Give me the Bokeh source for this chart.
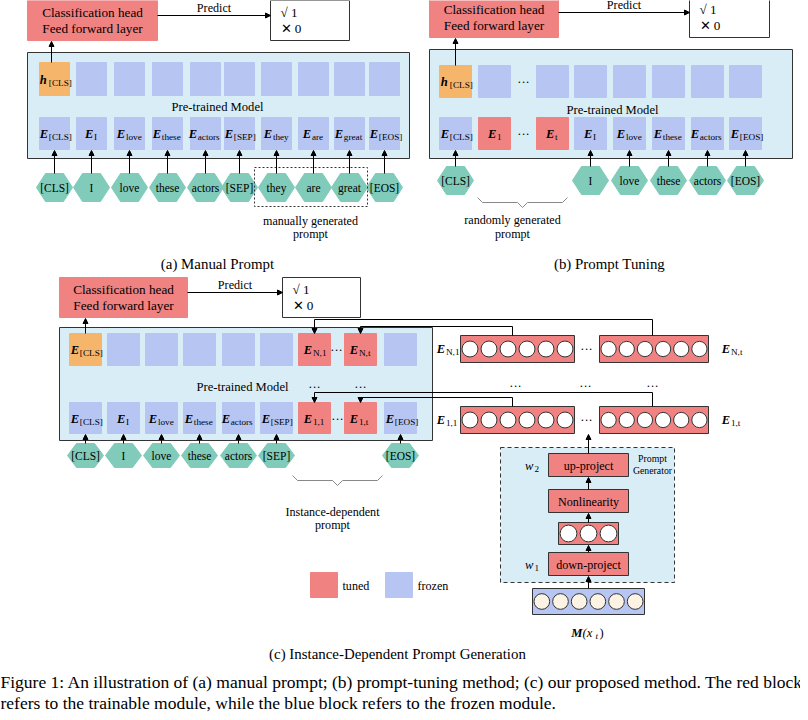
from bokeh.plotting import figure
from bokeh.models import Range1d, Arrow, NormalHead
from bokeh.core.properties import value
from bokeh.embed import file_html
from bokeh.resources import INLINE

SERIF = "Liberation Serif"
FROZEN = "#b6c5f2"; TUNED = "#f08282"; ORANGE = "#f5b66c"; PANEL = "#d8edf6"; HEX = "#80cbb9"
FS = 1.15

# ---- data ----
tokens_a = ["[CLS]", "I", "love", "these", "actors", "[SEP]", "they", "are", "great", "[EOS]"]
x_a = [62, 99, 137, 175, 213, 247, 284, 321, 357, 392]
tokens_b = ["[CLS]", "I", "love", "these", "actors", "[EOS]"]
x_b_tok = [463, 598, 637, 676, 715, 753]
emb_b = [("[CLS]", FROZEN, 463), ("1", TUNED, 502), ("t", TUNED, 560), ("I", FROZEN, 598),
         ("love", FROZEN, 637), ("these", FROZEN, 676), ("actors", FROZEN, 715), ("[EOS]", FROZEN, 753)]
tokens_c = ["[CLS]", "I", "love", "these", "actors", "[SEP]", "[EOS]"]
x_c_tok = [93, 131, 169, 207, 246, 284, 408]
emb_c_bot = [("[CLS]", FROZEN, 93), ("I", FROZEN, 131), ("love", FROZEN, 169), ("these", FROZEN, 207),
             ("actors", FROZEN, 246), ("[SEP]", FROZEN, 284), ("1,1", TUNED, 322), ("1,t", TUNED, 368), ("[EOS]", FROZEN, 408)]
top_c = [("[CLS]", ORANGE, 93), ("", FROZEN, 131), ("", FROZEN, 169), ("", FROZEN, 207), ("", FROZEN, 246),
         ("", FROZEN, 284), ("N,1", TUNED, 322), ("N,t", TUNED, 368), ("", FROZEN, 408)]

p = figure(width=800, height=712, x_range=Range1d(8, 808), y_range=Range1d(720, 8),
           output_backend="svg", toolbar_location=None, x_axis_type=None, y_axis_type=None, min_border=0)
p.grid.visible = False
p.outline_line_color = None

def box(x0, y0, x1, y1, fill, line="#333333", dash="solid", lw=1):
    p.quad(left=[x0], right=[x1], top=[y0], bottom=[y1], fill_color=fill, line_color=line, line_dash=dash, line_width=lw)

def txt(x, y, s, size=11, align="center", style="normal", color="black"):
    p.text(x=[x], y=[y], text=[s], text_font=value(SERIF), text_font_size=f"{size * FS:.1f}px", text_align=align,
           text_baseline="middle", text_font_style=style, text_color=color)

def arrow(x0, y0, x1, y1):
    p.add_layout(Arrow(end=NormalHead(size=5, fill_color="black", line_color="black"), x_start=x0, y_start=y0,
                       x_end=x1, y_end=y1, line_width=1))

def lab(xc, yc, main, sub, msize=11, ssize=8):
    w = (msize * 0.7 + ssize * 0.45 * len(sub)) * FS
    x0 = xc - w / 2
    txt(x0, yc, main, msize, "left", "bold italic")
    if sub:
        txt(x0 + msize * 0.72 * FS, yc + 3, sub, ssize, "left")

def hexes(xs, y, labels, hh=14):
    xsl, ysl = [], []
    for x in xs:
        xsl.append([x - 18, x - 9, x + 9, x + 18, x + 9, x - 9])
        ysl.append([y, y - hh, y - hh, y, y + hh, y + hh])
    p.patches(xsl, ysl, fill_color=HEX, line_color=HEX)
    for x, l in zip(xs, labels):
        txt(x, y, l, 10)

def brace(x0, x1, y):
    xm = (x0 + x1) / 2
    p.line([x0, x0 + 5, xm - 5, xm, xm + 5, x1 - 5, x1], [y - 5, y, y, y + 5, y, y, y - 5], line_color="#888888")

def head(x0, y0, x1, y1, rx0, rx1):
    box(x0, y0, x1, y1, TUNED, line=TUNED)
    txt((x0 + x1) / 2, y0 + 12, "Classification head", 11.5)
    txt((x0 + x1) / 2, y0 + 28, "Feed forward layer", 11.5)
    arrow(x1, y0 + 15, rx0, y0 + 15)
    txt((x1 + rx0) / 2, y0 + 7, "Predict", 10.5)
    box(rx0, y0, rx1, y1, "white")
    txt(rx0 + 10, y0 + 12, "√  1", 11.5, "left")
    txt(rx0 + 10, y0 + 28, "✕  0", 11.5, "left")

def cell(xc, y0, y1, fill, hw=16):
    box(xc - hw, y0, xc + hw, y1, fill, line=fill)

# ---- (a) ----
head(35, 8, 165, 48, 278, 357)
box(35, 60, 417, 166, PANEL)
for i, x in enumerate(x_a):
    cell(x, 70, 103, ORANGE if i == 0 else FROZEN, 15)
    cell(x, 125, 157, FROZEN, 15)
    lab(x, 141, "E", tokens_a[i])
    arrow(x, 181, x, 158)
lab(x_a[0], 87, "h", "[CLS]")
arrow(59, 70, 59, 49)
txt(225, 114, "Pre-trained Model", 11)
hexes(x_a, 195, tokens_a)
box(262, 175, 375, 214, None, line="#333333", dash="2 2")
txt(318, 228, "manually generated", 10.5)
txt(318, 241, "prompt", 10.5)
txt(225, 271, "(a) Manual Prompt", 13)

# ---- (b) ----
head(437, 5, 566, 45, 697, 777)
box(437, 57, 800, 166, PANEL)
for k, (s, col, x) in enumerate(emb_b):
    cell(x, 73, 105, ORANGE if k == 0 else FROZEN)
    cell(x, 125, 157, col)
    lab(x, 141, "E", s)
lab(463, 89, "h", "[CLS]")
txt(531, 89, "···", 11); txt(531, 141, "···", 11)
arrow(463, 73, 463, 46)
txt(620, 117, "Pre-trained Model", 11)
for x in x_b_tok:
    arrow(x, 174, x, 158)
hexes(x_b_tok, 188, tokens_b)
brace(485, 575, 210)
txt(520, 227, "randomly generated", 10.5)
txt(520, 241, "prompt", 10.5)
txt(617, 271, "(b) Prompt Tuning", 13)

# ---- (c) ----
head(67, 285, 195, 325, 290, 368)
box(67, 335, 440, 448, PANEL)
for (s, col, x) in top_c:
    cell(x, 341, 373, col)
    if s:
        lab(x, 357, "E", s)
for (s, col, x) in emb_c_bot:
    cell(x, 410, 441, col)
    lab(x, 426, "E", s)
txt(344, 357, "···", 11); txt(345, 426, "···", 11)
txt(322, 394, "···", 11); txt(368, 394, "···", 11)
txt(250, 394, "Pre-trained Model", 11)
arrow(93, 341, 93, 326)
for x in x_c_tok:
    arrow(x, 451, x, 442)
hexes(x_c_tok, 463, tokens_c, 12)
brace(300, 390, 488)
txt(340, 519, "Instance-dependent", 10.5)
txt(340, 532, "prompt", 10.5)

def circ_row(x0, x1, y0, y1, fill, n):
    box(x0, y0, x1, y1, fill)
    step = (x1 - x0) / n
    cx = [x0 + step * (i + 0.5) for i in range(n)]
    p.circle(x=cx, y=[(y0 + y1) / 2] * n, radius=step * 0.42, fill_color="#fdf3e4" if fill == FROZEN else "white",
             line_color="#333333")

for (y0, y1, l1, l2) in [(343, 370, "N,1", "N,t"), (414, 441, "1,1", "1,t")]:
    circ_row(468, 582, y0, y1, TUNED, 6)
    circ_row(607, 716, y0, y1, TUNED, 6)
    txt(594, (y0 + y1) / 2, "···", 11)
    lab(455, (y0 + y1) / 2, "E", l1)
    lab(740, (y0 + y1) / 2, "E", l2)
txt(523, 393, "···", 11); txt(593, 393, "···", 11); txt(660, 393, "···", 11)
p.line([660, 660, 322], [343, 327, 327], line_color="black")
arrow(322, 327, 322, 341)
p.line([520, 520, 368], [343, 334, 334], line_color="black")
arrow(368, 334, 368, 341)
p.line([660, 660, 322], [414, 400, 400], line_color="black")
arrow(322, 400, 322, 410)
p.line([520, 520, 368], [414, 405, 405], line_color="black")
arrow(368, 405, 368, 410)

# generator
box(508, 455, 682, 590, PANEL, line="#333333", dash="4 3")
arrow(596, 461, 596, 442)
box(556, 461, 636, 484, TUNED); txt(596, 473, "up-project", 10.5)
txt(541, 473, "w", 11, "right", "italic"); txt(542, 476, "2", 8, "left")
txt(660, 466, "Prompt", 8.5); txt(660, 478, "Generator", 8.5)
arrow(596, 497, 596, 485)
box(556, 497, 636, 520, TUNED); txt(596, 509, "Nonlinearity", 10.5)
arrow(596, 530, 596, 521)
circ_row(566, 626, 530, 552, TUNED, 3)
arrow(596, 560, 596, 553)
box(556, 560, 636, 583, TUNED); txt(596, 572, "down-project", 10.5)
txt(541, 572, "w", 11, "right", "italic"); txt(542, 575, "1", 8, "left")
arrow(596, 596, 596, 584)
circ_row(540, 652, 596, 622, FROZEN, 6)
txt(590, 640, "M", 11, "right", "bold italic"); txt(590, 640, "(x", 11, "left", "italic")
txt(603, 643, "t", 8, "left", "italic"); txt(607, 640, ")", 11, "left")

# legend
box(318, 580, 345, 605, TUNED, line=TUNED); txt(350, 593, "tuned", 10.5, "left")
box(393, 580, 420, 605, FROZEN, line=FROZEN); txt(425, 593, "frozen", 10.5, "left")

txt(405, 661, "(c) Instance-Dependent Prompt Generation", 13)
txt(8, 689, "Figure 1: An illustration of (a) manual prompt; (b) prompt-tuning method; (c) our proposed method. The red block", 15.2, "left")
txt(8, 710, "refers to the trainable module, while the blue block refers to the frozen module.", 15.2, "left")

open("out.html", "w").write(file_html(p, INLINE))
